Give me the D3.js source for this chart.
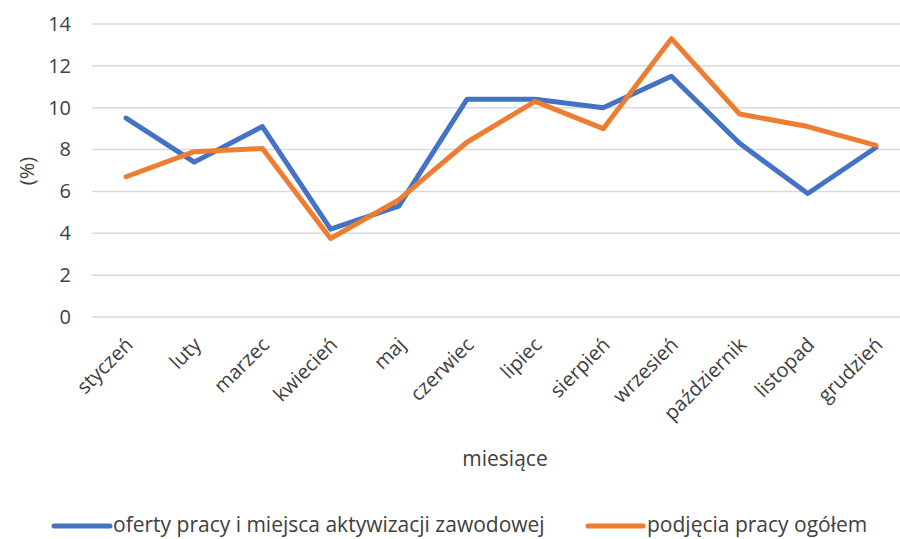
<!DOCTYPE html>
<html><head><meta charset="utf-8">
<script src="https://cdn.jsdelivr.net/npm/d3@7"></script>
<style>
body{margin:0;background:#fff;}
text{font-family:"Open Sans",sans-serif;fill:#404040;}
</style></head>
<body><svg id="c" width="900" height="539"></svg>
<script>
const categories = ["styczeń","luty","marzec","kwiecień","maj","czerwiec","lipiec","sierpień","wrzesień","październik","listopad","grudzień"];
const seriesNames = ["oferty pracy i miejsca aktywizacji zawodowej","podjęcia pracy ogółem"];
const oferty = [9.5,7.4,9.1,4.2,5.3,10.4,10.4,10.0,11.5,8.3,5.9,8.1];
const podjecia = [6.7,7.9,8.05,3.75,5.6,8.35,10.3,9.0,13.3,9.7,9.1,8.2];
const yTicks = [0,2,4,6,8,10,12,14];
const colors = ["#4472C4","#ED7D31"];
const FONT = '"Open Sans",sans-serif';

const svg = d3.select("#c");
const x = d3.scaleBand().domain(categories).range([92, 910]);
const y = d3.scaleLinear().domain([0,14]).range([317, 24]);

const grid = svg.append("g");
grid.selectAll("line").data(yTicks).join("line")
  .attr("x1",92).attr("x2",910)
  .attr("y1",d=>y(d)).attr("y2",d=>y(d))
  .attr("stroke","#d9d9d9").attr("stroke-width",1.5);

const yAxis = svg.append("g").attr("transform","translate(92,0)")
  .call(d3.axisLeft(y).tickValues(yTicks).tickSize(0).tickPadding(21));
yAxis.select(".domain").remove();
yAxis.selectAll("text").style("font-size","20px").attr("fill","#404040").style("font-family",FONT);

const xAxis = svg.append("g").attr("transform","translate(0,317)")
  .call(d3.axisBottom(x).tickSize(0));
xAxis.select(".domain").remove();
xAxis.selectAll("text")
  .style("font-size","20px").attr("fill","#404040").style("font-family",FONT)
  .attr("text-anchor","end").attr("dy",null).attr("y",0).attr("x",0)
  .attr("transform","translate(8,29) rotate(-45)");

const line = d3.line().x((d,i)=>x(categories[i])+x.bandwidth()/2).y(d=>y(d));
[oferty,podjecia].forEach((s,k)=>{
  svg.append("path").datum(s).attr("d",line)
    .attr("fill","none").attr("stroke",colors[k]).attr("stroke-width",5)
    .attr("stroke-linejoin","round").attr("stroke-linecap","round");
});

svg.append("text").attr("transform","translate(34,171) rotate(-90)")
  .attr("text-anchor","middle").style("font-size","20px").text("(%)");
svg.append("text").attr("x",505).attr("y",466)
  .attr("text-anchor","middle").style("font-size","21px").text("miesiące");

const lg = [{x1:54,x2:110,tx:113},{x1:588,x2:643,tx:647}];
lg.forEach((p,k)=>{
  svg.append("line").attr("x1",p.x1).attr("x2",p.x2).attr("y1",526).attr("y2",526)
    .attr("stroke",colors[k]).attr("stroke-width",5).attr("stroke-linecap","round");
  svg.append("text").attr("x",p.tx).attr("y",532).style("font-size","21px").text(seriesNames[k]);
});
</script></body></html>
